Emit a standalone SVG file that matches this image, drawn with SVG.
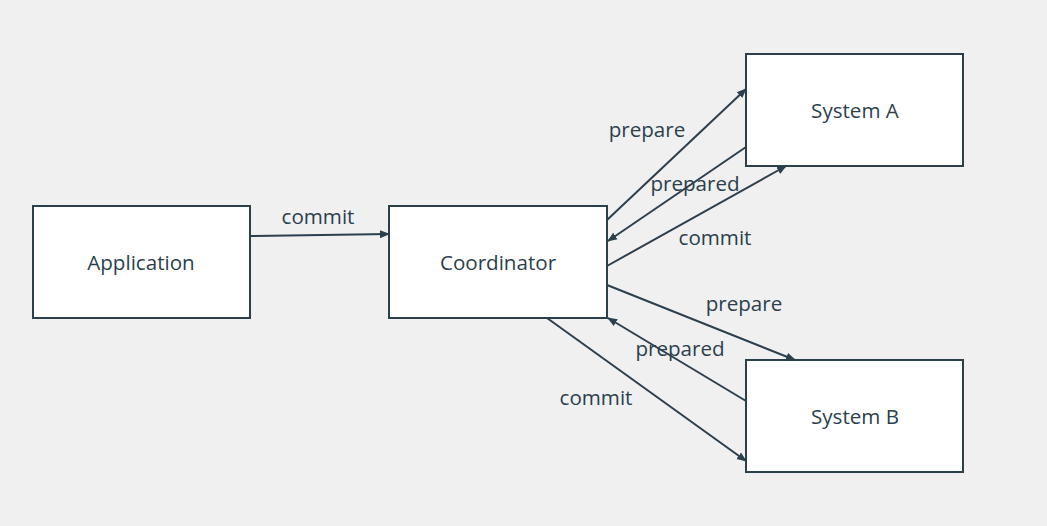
<svg xmlns="http://www.w3.org/2000/svg" width="1047" height="526" viewBox="0 0 1047 526">
<style>
.box{fill:#ffffff;stroke:#2b3f4c;stroke-width:2}
.lbl{font-family:"Open Sans","Noto Sans",sans-serif;font-size:20.6px;fill:#2b3f4c;text-anchor:middle}
.edge{stroke:#2b3f4c;stroke-width:2;fill:none;marker-end:url(#ah)}
</style>
<defs>
<marker id="ah" viewBox="0 0 10 10" refX="9" refY="5" markerWidth="5" markerHeight="5" orient="auto" markerUnits="strokeWidth">
<path d="M0,1 L10,5 L0,9 Z" fill="#2b3f4c"/>
</marker>
</defs>
<rect width="1047" height="526" fill="#f0f0f1"/>
<g id="application"><rect class="box" x="33" y="206" width="217" height="112"/><text class="lbl" x="141" y="270">Application</text></g>
<g id="coordinator"><rect class="box" x="389" y="206" width="218" height="112"/><text class="lbl" x="498" y="270">Coordinator</text></g>
<g id="systemA"><rect class="box" x="746" y="54" width="217" height="112"/><text class="lbl" x="855" y="118">System A</text></g>
<g id="systemB"><rect class="box" x="746" y="360" width="217" height="112"/><text class="lbl" x="855" y="424">System B</text></g>
<g id="connectors">
<line class="edge" x1="250" y1="236" x2="389" y2="234"/>
<line class="edge" x1="607" y1="220" x2="746" y2="89"/>
<line class="edge" x1="746" y1="147" x2="608" y2="241"/>
<line class="edge" x1="607" y1="266" x2="786" y2="166"/>
<line class="edge" x1="607" y1="285" x2="795" y2="360"/>
<line class="edge" x1="746" y1="401" x2="608" y2="318"/>
<line class="edge" x1="547" y1="318" x2="746" y2="461"/>
</g>
<g id="labels">
<text class="lbl" x="318" y="224">commit</text>
<text class="lbl" x="647" y="137">prepare</text>
<text class="lbl" x="695" y="191">prepared</text>
<text class="lbl" x="715" y="245">commit</text>
<text class="lbl" x="744" y="311">prepare</text>
<text class="lbl" x="680" y="356">prepared</text>
<text class="lbl" x="596" y="405">commit</text>
</g>
</svg>
